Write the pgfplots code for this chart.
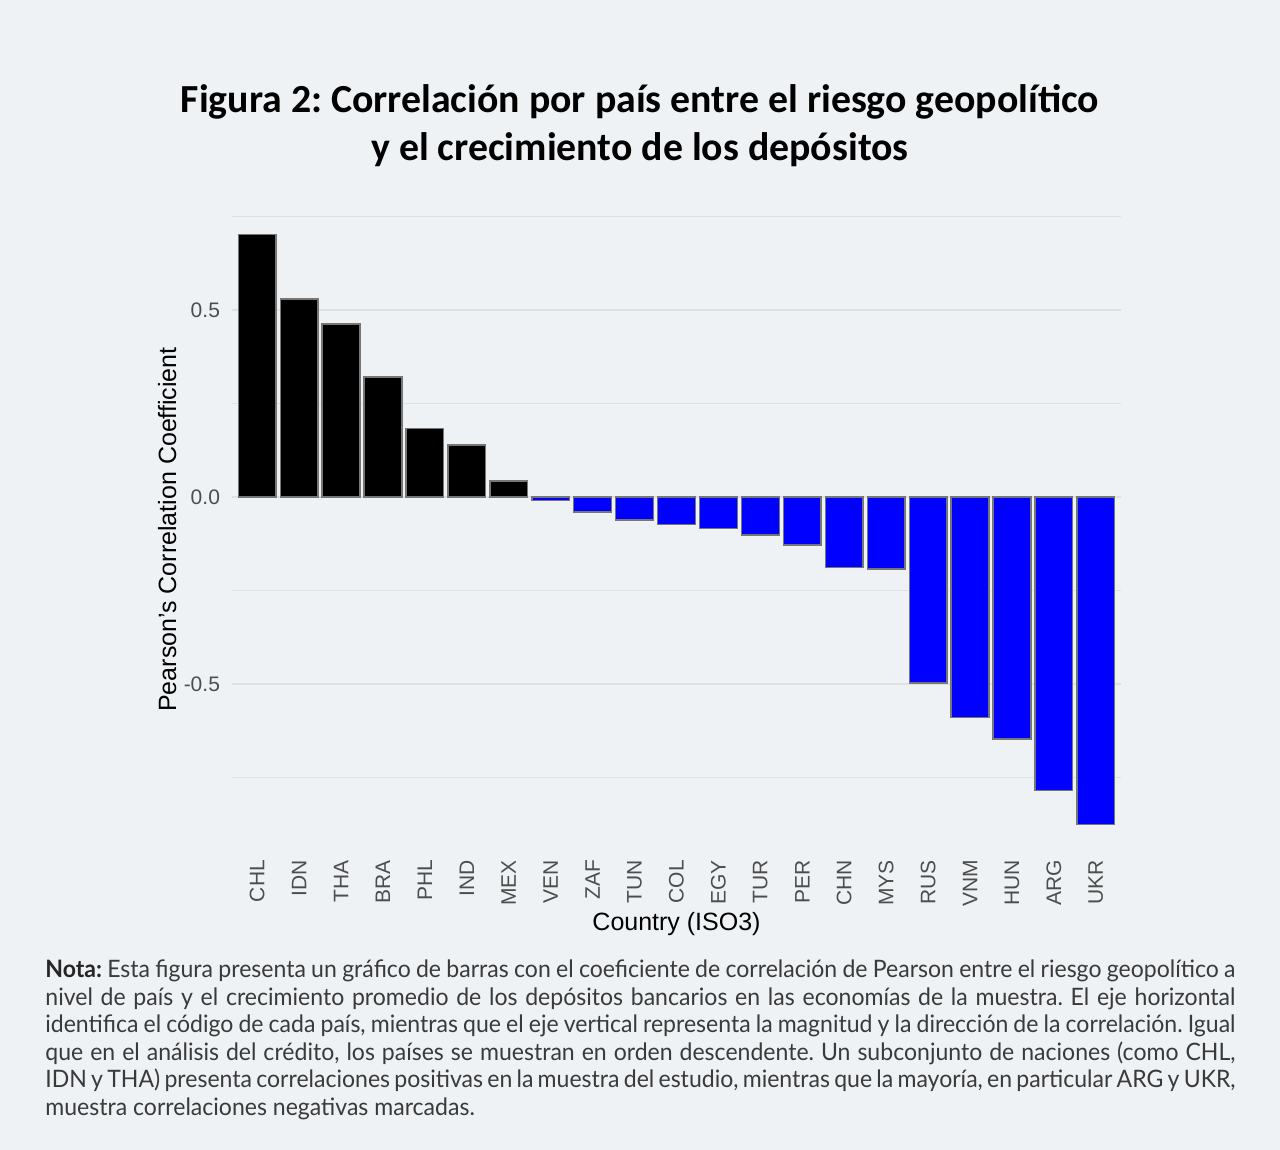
\documentclass[border=0pt]{standalone}
\usepackage{pgfplots}
\pgfplotsset{compat=1.18}
\usepackage{fontspec}
\setmainfont{Liberation Sans}
\newfontfamily\titlefont{Carlito}
\newfontfamily\notefont[FakeStretch=0.96]{Lato}
\definecolor{bg}{HTML}{EEF2F5}
\definecolor{gridc}{HTML}{DCE1E5}
\definecolor{ticktext}{HTML}{4D4D4D}
\definecolor{notetext}{HTML}{3A3A3A}
\definecolor{barblue}{HTML}{0000FF}
\definecolor{outlinec}{HTML}{767676}
\frenchspacing

\begin{document}
\begin{tikzpicture}[x=1pt,y=1pt]
\fill[bg] (0pt,0pt) rectangle (640pt,575pt);
\node[font=\titlefont\bfseries\fontsize{19.9}{23}\selectfont, anchor=base, inner sep=0] at (320pt,518.5pt) {Figura 2: Correlación por país entre el riesgo geopolítico};
\node[font=\titlefont\bfseries\fontsize{19.9}{23}\selectfont, anchor=base, inner sep=0] at (320pt,494.5pt) {y el crecimiento de los depósitos};

\begin{axis}[
  at={(116pt,472pt)}, anchor=north west,
  scale only axis, width=444.5pt, height=323.5pt,
  xmin=0.4, xmax=21.6, ymin=-0.953, ymax=0.779,
  axis line style={draw=none},
  major tick length=0pt, minor tick length=0pt,
  xtick={1,...,21},
  xticklabels={CHL,IDN,THA,BRA,PHL,IND,MEX,VEN,ZAF,TUN,COL,EGY,TUR,PER,CHN,MYS,RUS,VNM,HUN,ARG,UKR},
  xticklabel style={rotate=90, anchor=east, font=\fontsize{10.5}{12}\selectfont, text=ticktext},
  ytick={-0.5,0,0.5}, yticklabels={-0.5,0.0,0.5},
  yticklabel style={font=\fontsize{10.5}{12}\selectfont, text=ticktext, xshift=-2.5pt},
  minor ytick={-0.75,-0.25,0.25,0.75},
  ymajorgrids, yminorgrids,
  major grid style={draw=gridc, line width=0.75pt},
  minor grid style={draw=gridc, line width=0.45pt},
  xlabel={Country (ISO3)},
  ylabel={Pearson's Correlation Coefficient},
  label style={font=\fontsize{12.5}{14}\selectfont},
  xlabel style={at={(axis description cs:0.5,-0.11)}, anchor=center},
  ylabel style={at={(axis description cs:-0.073,0.5)}, anchor=center},
]
\addplot[ybar, bar width=0.9, bar shift=0pt, fill=black, draw=outlinec, line width=0.7pt]
  coordinates {(1,0.702) (2,0.530) (3,0.463) (4,0.321) (5,0.184) (6,0.139) (7,0.043)};
\addplot[ybar, bar width=0.9, bar shift=0pt, fill=barblue, draw=outlinec, line width=0.7pt]
  coordinates {(8,-0.010) (9,-0.040) (10,-0.062) (11,-0.074) (12,-0.085) (13,-0.102) (14,-0.128)
               (15,-0.188) (16,-0.193) (17,-0.498) (18,-0.591) (19,-0.648) (20,-0.785) (21,-0.876)};
\end{axis}

\begin{scope}[every node/.style={anchor=base west, inner sep=0, font=\notefont\fontsize{12}{14}\selectfont, text=notetext}]
\node at (22.5pt,86pt) {\makebox[595pt][s]{{\bfseries\color{black!85}Nota:} Esta figura presenta un gráfico de barras con el coeficiente de correlación de Pearson entre el riesgo geopolítico a}};
\node at (22.5pt,72pt) {\makebox[595pt][s]{nivel de país y el crecimiento promedio de los depósitos bancarios en las economías de la muestra. El eje horizontal}};
\node at (22.5pt,58.5pt) {\makebox[595pt][s]{identifica el código de cada país, mientras que el eje vertical representa la magnitud y la dirección de la correlación. Igual}};
\node at (22.5pt,44.5pt) {\makebox[595pt][s]{que en el análisis del crédito, los países se muestran en orden descendente. Un subconjunto de naciones (como CHL,}};
\node at (22.5pt,31pt) {\makebox[595pt][s]{IDN y THA) presenta correlaciones positivas en la muestra del estudio, mientras que la mayoría, en particular ARG y UKR,}};
\node at (22.5pt,17pt) {muestra correlaciones negativas marcadas.};
\end{scope}
\end{tikzpicture}
\end{document}
